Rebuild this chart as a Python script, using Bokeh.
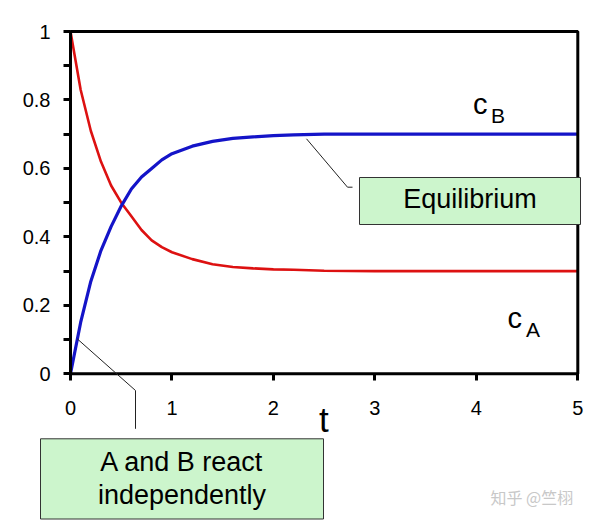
from bokeh.plotting import figure
from bokeh.models import Range1d, LinearAxis, FixedTicker, BoxAnnotation, Label
from bokeh.embed import file_html
from bokeh.resources import INLINE

# ---- data ----
t = [0.0, 0.1, 0.2, 0.3, 0.4, 0.5, 0.6, 0.7, 0.8, 0.9, 1.0,
     1.2, 1.4, 1.6, 1.8, 2.0, 2.2, 2.5, 3.0, 4.0, 5.0]
c_a = [1.0, 0.83, 0.71, 0.62, 0.55, 0.50, 0.46, 0.42, 0.39, 0.37, 0.355,
       0.335, 0.32, 0.312, 0.308, 0.305, 0.304, 0.301, 0.300, 0.300, 0.300]
c_b = [0.0, 0.15, 0.27, 0.36, 0.43, 0.49, 0.54, 0.575, 0.60, 0.625, 0.643,
       0.665, 0.679, 0.688, 0.692, 0.696, 0.698, 0.700, 0.700, 0.700, 0.700]
x_ticks = [0, 1, 2, 3, 4, 5]
y_ticks = [0, 0.2, 0.4, 0.6, 0.8, 1]
y_minor_ticks = [0.1, 0.3, 0.5, 0.7, 0.9]
y_label_overrides = {0: "0", 1: "1"}

# ---- layout geometry (reference pixels -> data) ----
W, H = 598, 525
X_T0, X_T5 = 70.0, 577.3
Y_V0, Y_V1 = 373.3, 31.0
SX = (X_T5 - X_T0) / 5.0
SY = (Y_V0 - Y_V1) / 1.0
LABEL_DY = 10.0   # text baseline correction


def tx(X):
    return (X - X_T0) / SX


def vy(Y):
    return (Y_V0 - Y) / SY


FONT = "Liberation Sans"

p = figure(width=W, height=H,
           x_range=Range1d(tx(0), tx(W)), y_range=Range1d(vy(H), vy(0)),
           x_axis_type=None, y_axis_type=None,
           toolbar_location=None, output_backend="svg", min_border=0)
p.outline_line_color = None
p.background_fill_color = "white"
p.border_fill_color = "white"

# curves
p.line(t, c_a, line_color="#dd1111", line_width=2.6)
p.line(t, c_b, line_color="#1414c8", line_width=3.2)

# frame box around data area (also forms the axis lines)
p.quad(left=[x_ticks[0]], right=[x_ticks[-1]], bottom=[y_ticks[0]], top=[y_ticks[-1]],
       fill_color=None, line_color="black", line_width=3)

# axes through the origin
xa = LinearAxis(fixed_location=0, ticker=FixedTicker(ticks=x_ticks))
ya = LinearAxis(fixed_location=0, ticker=FixedTicker(ticks=y_ticks, minor_ticks=y_minor_ticks))
ya.major_label_overrides = y_label_overrides
for ax in (xa, ya):
    ax.axis_line_color = None
    ax.major_tick_line_width = 3
    ax.major_tick_line_color = "black"
    ax.major_tick_out = 7
    ax.major_tick_in = 0
    ax.minor_tick_line_width = 3
    ax.minor_tick_line_color = "black"
    ax.minor_tick_out = 7
    ax.minor_tick_in = 0
    ax.major_label_text_font = FONT
    ax.major_label_text_font_size = "20px"
    ax.major_label_text_color = "black"
xa.major_label_standoff = 20
ya.major_label_standoff = 13
p.add_layout(xa, "below")
p.add_layout(ya, "left")

# leader lines
p.line([tx(306), tx(347), tx(352)], [vy(138.3), vy(186.7), vy(186.7)],
       line_color="#222222", line_width=1)
p.line([tx(76.7), tx(135), tx(135)], [vy(338.3), vy(390), vy(428.3)],
       line_color="#222222", line_width=1)

# text boxes
BOX_FILL = "#ccf5cc"
BOX_LINE = "#333333"
p.add_layout(BoxAnnotation(left=tx(359), right=tx(580), top=vy(177), bottom=vy(224),
                           fill_color=BOX_FILL, fill_alpha=1,
                           line_color=BOX_LINE, line_alpha=1, line_width=1))
p.add_layout(BoxAnnotation(left=tx(40), right=tx(323), top=vy(438.3), bottom=vy(518.5),
                           fill_color=BOX_FILL, fill_alpha=1,
                           line_color=BOX_LINE, line_alpha=1, line_width=1))


def lab(X, Y, text, size, align="left", color="black", font=FONT):
    p.add_layout(Label(x=tx(X), y=vy(Y - LABEL_DY), text=text, text_font=font,
                       text_font_size=size, text_align=align,
                       text_baseline="alphabetic", text_color=color))


lab(469.5, 208.3, "Equilibrium", "27px", "center")
lab(181.5, 471.7, "A and B react", "27px", "center")
lab(181.5, 504.0, "independently", "27px", "center")

# axis name
lab(323.3, 429.0, "t", "35px", "center")

# curve names
lab(472.5, 113.3, "c", "29px")
lab(490.5, 125.0, "B", "21px")
lab(507.0, 327.7, "c", "29px")
lab(525.5, 339.0, "A", "21px")

# watermark
lab(490.0, 506.0, "知乎 @竺栩", "16px", color="#c8c8c8", font="Noto Sans CJK SC")

with open("out.html", "w", encoding="utf-8") as f:
    f.write(file_html(p, INLINE))
